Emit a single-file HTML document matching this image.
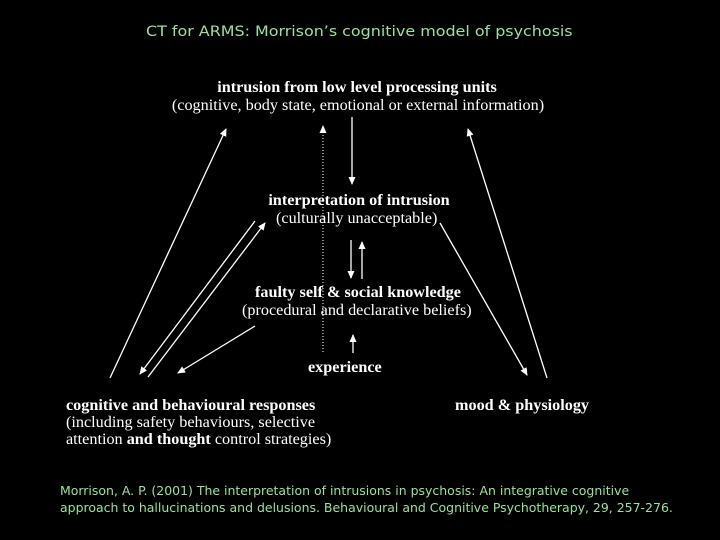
<!DOCTYPE html>
<html><head><style>
body{margin:0;width:720px;height:540px;background:#000;overflow:hidden;position:relative;font-family:"Liberation Serif",serif;color:#fff}
.t{position:absolute;white-space:nowrap;font-size:16.2px;line-height:17px}
.b{font-weight:bold}
.g{position:absolute;color:#9be29b;font-family:"DejaVu Sans Condensed","Liberation Sans",sans-serif;font-size:12.5px;white-space:nowrap;transform-origin:0 0}
svg{position:absolute;left:0;top:0}
</style></head><body>
<div class="g" style="left:146px;top:24px;font-size:14.5px;transform:scaleX(1.22)">CT for ARMS: Morrison’s cognitive model of psychosis</div>
<div class="t b" style="left:-3px;width:720px;text-align:center;top:79px">intrusion from low level processing units</div>
<div class="t" style="left:158px;top:97px;width:400px;text-align:center">(cognitive, body state, emotional or external information)</div>
<div class="t b" style="left:256px;top:192px;width:206px;text-align:center">interpretation of intrusion</div>
<div class="t" style="left:276px;top:210px">(culturally unacceptable)</div>
<div class="t b" style="left:244px;top:284px;width:228px;text-align:center">faulty self &amp; social knowledge</div>
<div class="t" style="left:242px;top:302px">(procedural and declarative beliefs)</div>
<div class="t b" style="left:308px;top:359px">experience</div>
<div class="t b" style="left:66px;top:397px">cognitive and behavioural responses</div>
<div class="t" style="left:66px;top:414px">(including safety behaviours, selective</div>
<div class="t" style="left:66px;top:431px">attention <b>and thought</b> control strategies)</div>
<div class="t b" style="left:455px;top:397px">mood &amp; physiology</div>
<div class="g" style="left:60px;top:483px;transform:scaleX(1.11)">Morrison, A. P. (2001) The interpretation of intrusions in psychosis: An integrative cognitive</div>
<div class="g" style="left:60px;top:500px;transform:scaleX(1.11)">approach to hallucinations and delusions. Behavioural and Cognitive Psychotherapy, 29, 257-276.</div>
<svg width="720" height="540">
<defs><marker id="a" markerWidth="8" markerHeight="8" refX="7" refY="4" orient="auto" markerUnits="userSpaceOnUse"><path d="M0,0.5L8,4L0,7.5z" fill="#fff"/></marker></defs>
<g stroke="#fff" stroke-width="1.3" fill="none">
<line x1="110" y1="378" x2="226" y2="129" marker-end="url(#a)"/>
<line x1="323" y1="352" x2="323" y2="126" stroke-dasharray="1,2" stroke-width="1" marker-end="url(#a)"/>
<line x1="352" y1="117" x2="352" y2="184" marker-end="url(#a)"/>
<line x1="255" y1="221" x2="140" y2="374" marker-end="url(#a)"/>
<line x1="148" y1="377" x2="265" y2="223" marker-end="url(#a)"/>
<line x1="440" y1="223" x2="527" y2="375" marker-end="url(#a)"/>
<line x1="547" y1="378" x2="468" y2="129" marker-end="url(#a)"/>
<line x1="351" y1="240" x2="351" y2="278" marker-end="url(#a)"/>
<line x1="362" y1="279" x2="362" y2="242" marker-end="url(#a)"/>
<line x1="255" y1="326" x2="178" y2="373" marker-end="url(#a)"/>
<line x1="353" y1="353" x2="353" y2="335" marker-end="url(#a)"/>
</g></svg>
</body></html>
